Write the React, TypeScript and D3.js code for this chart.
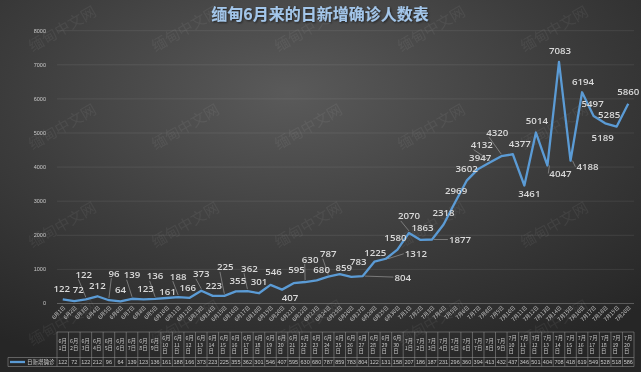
import React from "react";
import * as d3 from "d3";

// categories: June 1 .. July 20
const dates = [
  "6月1日", "6月2日", "6月3日", "6月4日", "6月5日", "6月6日", "6月7日", "6月8日", "6月9日", "6月10日",
  "6月11日", "6月12日", "6月13日", "6月14日", "6月15日", "6月16日", "6月17日", "6月18日", "6月19日", "6月20日",
  "6月21日", "6月22日", "6月23日", "6月24日", "6月25日", "6月26日", "6月27日", "6月28日", "6月29日", "6月30日",
  "7月1日", "7月2日", "7月3日", "7月4日", "7月5日", "7月6日", "7月7日", "7月8日", "7月9日", "7月10日",
  "7月11日", "7月12日", "7月13日", "7月14日", "7月15日", "7月16日", "7月17日", "7月18日", "7月19日", "7月20日",
];

const dailyCases = [
  122, 72, 122, 212, 96, 64, 139, 123, 136, 161,
  188, 166, 373, 223, 225, 355, 362, 301, 546, 407,
  595, 630, 680, 787, 859, 783, 804, 1225, 1312, 1580,
  2070, 1863, 1877, 2318, 2969, 3602, 3947, 4132, 4320, 4377,
  3461, 5014, 4047, 7083, 4188, 6194, 5497, 5285, 5189, 5860,
];

const yTicks = [0, 1000, 2000, 3000, 4000, 5000, 6000, 7000, 8000];
const seriesName = "日新增确诊";
const title = "缅甸6月来的日新增确诊人数表";
const watermark = "缅甸中文网";

// label placement relative to the point (px), like the Excel labels
const labelDx = [
  -1, 4, -2, 0, 5, 0, 0, 2, 0, 1,
  0, -2, 0, 1, 1, 2, 2, 0, 3, 8,
  3, 5, 5, 0, 4, 7, 40, 1, 30, -2,
  0, 2, 28, 0, 1, 0, 2, -8, -4, 7,
  5, 1, 13, 1, 17, 1, -1, 4, -14, 0,
];
const labelDy = [
  -11, -12, -25, -11, -27, -12, -24, -11, -23, -7,
  -21, -10, -17, -10, -29, -11, -23, -12, -13, 8,
  -14, -23, -11, -23, -7, -15, 1, -9, -5, -12,
  -17, -12, 0, -12, -12, -12, -11, -18, -24, -11,
  8, -12, 8, -11, 6, -11, -13, -9, 11, -12,
];

const W = 641;
const H = 372;
const plotLeft = 57;
const plotRight = 634;
const yBottom = 303.5;
const yTop = 30.7;
const tableTop = 332;
const headerBottom = 357.5;
const tableBottom = 366.5;
const legendLeft = 8;

function splitHeader(d: string) {
  const m = d.match(/^(\d+月)(\d+)日$/);
  if (!m) return [d];
  return m[2].length > 1 ? [m[1], m[2], "日"] : [m[1], m[2] + "日"];
}

export default function App() {
  const x = d3.scaleBand<string>().domain(dates).range([plotLeft, plotRight]);
  const bw = x.bandwidth();
  const cx = (i: number) => (x(dates[i]) as number) + bw / 2;
  const y = d3.scaleLinear().domain([0, 8000]).range([yBottom, yTop]);

  const line = d3
    .line<number>()
    .x((d, i) => cx(i))
    .y((d) => y(d));

  const wmX = [63, 186, 309, 432, 555];
  const wmY = [30, 128, 226, 324];

  return (
    <div style={{ position: "fixed", left: 0, top: 0 }}>
      <svg width={W} height={H} style={{ display: "block" }}>
        <defs>
          <radialGradient id="bg" cx="45%" cy="25%" r="80%">
            <stop offset="0%" stopColor="#5a5a5a" />
            <stop offset="55%" stopColor="#3c3c3c" />
            <stop offset="100%" stopColor="#262626" />
          </radialGradient>
          <filter id="shadow" x="-10%" y="-30%" width="120%" height="160%">
            <feDropShadow dx="1" dy="1" stdDeviation="0.8" floodColor="#000" floodOpacity="0.6" />
          </filter>
        </defs>
        <rect width={W} height={H} fill="url(#bg)" />

        {/* watermark */}
        {wmY.map((wy) =>
          wmX.map((wx) => (
            <text
              key={`${wx}-${wy}`}
              x={wx}
              y={wy}
              transform={`rotate(-30 ${wx} ${wy})`}
              textAnchor="middle"
              dominantBaseline="middle"
              fontFamily="Noto Sans CJK SC"
              fontSize={15}
              fill="#ffffff"
              fillOpacity={0.06}
            >
              {watermark}
            </text>
          ))
        )}

        <text
          x={320}
          y={20}
          textAnchor="middle"
          fontFamily="Noto Sans CJK SC"
          fontWeight="bold"
          fontSize={16}
          fill="#a3c6ea"
          filter="url(#shadow)"
        >
          {title}
        </text>

        {/* grid + y axis */}
        {yTicks.map((t) => (
          <g key={t}>
            <line x1={plotLeft} x2={plotRight} y1={y(t)} y2={y(t)} stroke="#ffffff" strokeOpacity={t === 0 ? 0.3 : 0.1} strokeWidth={0.8} />
            <text x={46} y={y(t)} dy="0.35em" textAnchor="end" fontFamily="Liberation Sans" fontSize={5.5} fill="#c8c8c8">
              {t}
            </text>
          </g>
        ))}

        {/* x axis labels */}
        {dates.map((d, i) => (
          <text
            key={d}
            x={cx(i) + 2}
            y={307}
            transform={`rotate(-45 ${cx(i) + 2} 307)`}
            textAnchor="end"
            dominantBaseline="middle"
            fontFamily="Noto Sans CJK SC"
            fontSize={5.3}
            fill="#c8c8c8"
          >
            {d}
          </text>
        ))}

        {/* line */}
        <path d={line(dailyCases) || ""} fill="none" stroke="#5b9bd5" strokeWidth={2.3} strokeLinejoin="round" />

        {/* leader lines */}
        {dailyCases.map((v, i) => {
          const px = cx(i);
          const py = y(v);
          const dx = labelDx[i];
          const dy = labelDy[i];
          const halfW = (String(v).length * 5.6) / 2;
          if (dx >= 12) {
            return <line key={i} x1={px + 2} y1={py} x2={px + dx - halfW - 1} y2={py + dy} stroke="#a6a6a6" strokeWidth={0.6} />;
          }
          if (dy <= -17) {
            return <line key={i} x1={px} y1={py - 2} x2={px + dx - halfW + 3} y2={py + dy + 5} stroke="#a6a6a6" strokeWidth={0.6} />;
          }
          return null;
        })}

        {/* data labels */}
        {dailyCases.map((v, i) => (
          <text
            key={i}
            x={cx(i) + labelDx[i]}
            y={y(v) + labelDy[i]}
            dy="0.36em"
            textAnchor="middle"
            fontFamily="Open Sans"
            fontWeight={600}
            fontSize={9.7}
            fill="#d9d9d9"
          >
            {v}
          </text>
        ))}

        {/* data table */}
        <g stroke="#8c8c8c" strokeWidth={0.6} fill="none">
          <line x1={plotLeft} x2={plotRight} y1={tableTop} y2={tableTop} />
          <line x1={legendLeft} x2={plotRight} y1={headerBottom} y2={headerBottom} />
          <line x1={legendLeft} x2={plotRight} y1={tableBottom} y2={tableBottom} />
          <line x1={legendLeft} x2={legendLeft} y1={headerBottom} y2={tableBottom} />
          {dates.map((d) => (
            <line key={d} x1={x(d)} x2={x(d)} y1={tableTop} y2={tableBottom} />
          ))}
          <line x1={plotRight} x2={plotRight} y1={tableTop} y2={tableBottom} />
        </g>
        {dates.map((d, i) => {
          const parts = splitHeader(d);
          const lh = 6.5;
          const mid = (tableTop + headerBottom) / 2;
          const start = mid - ((parts.length - 1) * lh) / 2;
          return (
            <text key={d} fontFamily="Noto Sans CJK SC" fontSize={5.3} fill="#c8c8c8">
              {parts.map((p, k) => (
                <tspan key={k} x={(x(d) as number) + 1.5} y={start + k * lh} dy="0.35em">
                  {p}
                </tspan>
              ))}
            </text>
          );
        })}
        {dailyCases.map((v, i) => (
          <text
            key={i}
            x={cx(i)}
            y={(headerBottom + tableBottom) / 2}
            dy="0.35em"
            textAnchor="middle"
            fontFamily="Liberation Sans"
            fontSize={5.5}
            fill="#c8c8c8"
          >
            {String(v).slice(0, 3)}
          </text>
        ))}
        <line x1={10} x2={25} y1={(headerBottom + tableBottom) / 2} y2={(headerBottom + tableBottom) / 2} stroke="#5b9bd5" strokeWidth={2.3} />
        <text x={27} y={(headerBottom + tableBottom) / 2} dy="0.35em" fontFamily="Noto Sans CJK SC" fontSize={5.5} fill="#c8c8c8">
          {seriesName}
        </text>
      </svg>
    </div>
  );
}
